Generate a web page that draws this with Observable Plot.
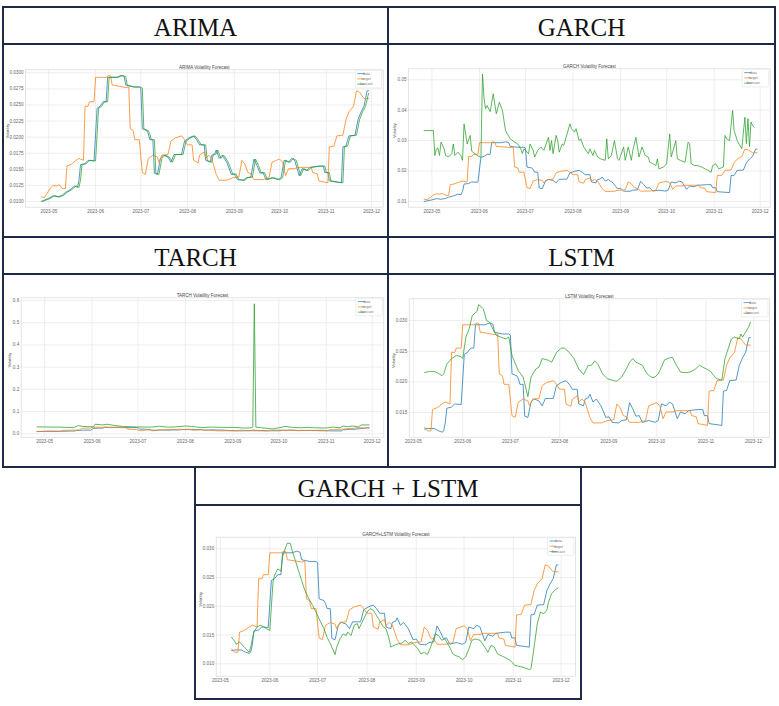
<!DOCTYPE html>
<html>
<head>
<meta charset="utf-8">
<script src="https://cdn.jsdelivr.net/npm/d3@7"></script>
<script src="https://cdn.jsdelivr.net/npm/@observablehq/plot@0.6"></script>
<style>
  body { margin: 0; background: #fff; }
  #page { position: relative; width: 779px; height: 706px; overflow: hidden; background: #fff; }
  .rule { position: absolute; background: #1d2947; }
  .head {
    position: absolute; display: flex; align-items: center; justify-content: center;
    box-sizing: border-box; padding-top: 4px;
    font-family: "Liberation Serif", "Times New Roman", serif; font-size: 25px; line-height: 1; color: #111;
  }
  .chart { position: absolute; }
  .chart svg { display: block; }
</style>
</head>
<body>
<div id="page"></div>
<script>
// Realised volatility ("data") before 21 May, as the statistical models saw it
const statDataHead = [
  ["2023-04-26", 0.0100], ["2023-04-28", 0.0102], ["2023-05-01", 0.0105], ["2023-05-04", 0.0109],
  ["2023-05-07", 0.0107], ["2023-05-10", 0.0110], ["2023-05-12", 0.0114], ["2023-05-15", 0.0118],
  ["2023-05-18", 0.0124], ["2023-05-20", 0.0122]
];
// ...and as the LSTM based models saw it (they start later)
const nnDataHead = [
  ["2023-05-08", 0.0123], ["2023-05-10", 0.0124], ["2023-05-14", 0.0124], ["2023-05-17", 0.0120],
  ["2023-05-19", 0.0118], ["2023-05-20", 0.0120]
];
// Realised volatility from 21 May on, the same in every panel
const dataTail = [
  ["2023-05-21", 0.0133], ["2023-05-22", 0.0157], ["2023-05-25", 0.0159], ["2023-05-27", 0.0164],
  ["2023-05-31", 0.0163], ["2023-06-02", 0.0245], ["2023-06-04", 0.0248], ["2023-06-06", 0.0255],
  ["2023-06-08", 0.0255], ["2023-06-09", 0.0293], ["2023-06-15", 0.0293], ["2023-06-18", 0.0296],
  ["2023-06-20", 0.0294], ["2023-06-21", 0.0281], ["2023-06-26", 0.0278], ["2023-06-30", 0.0278],
  ["2023-07-01", 0.0276], ["2023-07-02", 0.0213], ["2023-07-05", 0.0210], ["2023-07-06", 0.0205],
  ["2023-07-07", 0.0196], ["2023-07-09", 0.0196], ["2023-07-10", 0.0144], ["2023-07-12", 0.0142],
  ["2023-07-14", 0.0167], ["2023-07-16", 0.0172], ["2023-07-19", 0.0169], ["2023-07-21", 0.0161],
  ["2023-07-23", 0.0173], ["2023-07-28", 0.0173], ["2023-07-30", 0.0194], ["2023-08-02", 0.0199],
  ["2023-08-05", 0.0202], ["2023-08-07", 0.0196], ["2023-08-09", 0.0188], ["2023-08-12", 0.0188],
  ["2023-08-13", 0.0164], ["2023-08-16", 0.0161], ["2023-08-17", 0.0172], ["2023-08-19", 0.0174],
  ["2023-08-20", 0.0180], ["2023-08-22", 0.0167], ["2023-08-24", 0.0172], ["2023-08-27", 0.0161],
  ["2023-08-30", 0.0142], ["2023-09-01", 0.0143], ["2023-09-03", 0.0134], ["2023-09-07", 0.0133],
  ["2023-09-09", 0.0137], ["2023-09-12", 0.0138], ["2023-09-14", 0.0166], ["2023-09-16", 0.0156],
  ["2023-09-18", 0.0144], ["2023-09-20", 0.0145], ["2023-09-22", 0.0134], ["2023-09-26", 0.0137],
  ["2023-09-30", 0.0134], ["2023-10-02", 0.0137], ["2023-10-04", 0.0164], ["2023-10-07", 0.0161],
  ["2023-10-09", 0.0167], ["2023-10-11", 0.0164], ["2023-10-14", 0.0140], ["2023-10-16", 0.0151],
  ["2023-10-19", 0.0148], ["2023-10-21", 0.0153], ["2023-10-27", 0.0155], ["2023-10-30", 0.0155],
  ["2023-10-31", 0.0145], ["2023-11-02", 0.0145], ["2023-11-03", 0.0132], ["2023-11-11", 0.0129],
  ["2023-11-12", 0.0185], ["2023-11-14", 0.0186], ["2023-11-16", 0.0202], ["2023-11-20", 0.0203],
  ["2023-11-22", 0.0227], ["2023-11-24", 0.0239], ["2023-11-26", 0.0248], ["2023-11-28", 0.0272],
  ["2023-11-29", 0.0272]
];
// Target volatility, the same in every panel
const targetVol = [
  ["2023-04-26", 0.0107], ["2023-04-28", 0.0106], ["2023-04-30", 0.0113], ["2023-05-02", 0.0121],
  ["2023-05-04", 0.0125], ["2023-05-06", 0.0124], ["2023-05-08", 0.0126], ["2023-05-10", 0.0120],
  ["2023-05-12", 0.0120], ["2023-05-13", 0.0155], ["2023-05-16", 0.0158], ["2023-05-19", 0.0164],
  ["2023-05-21", 0.0167], ["2023-05-24", 0.0164], ["2023-05-25", 0.0248], ["2023-05-27", 0.0248],
  ["2023-05-28", 0.0255], ["2023-05-31", 0.0255], ["2023-06-01", 0.0293], ["2023-06-08", 0.0293],
  ["2023-06-10", 0.0296], ["2023-06-11", 0.0295], ["2023-06-12", 0.0281], ["2023-06-17", 0.0279],
  ["2023-06-21", 0.0277], ["2023-06-23", 0.0278], ["2023-06-24", 0.0213], ["2023-06-26", 0.0210],
  ["2023-06-27", 0.0196], ["2023-06-30", 0.0196], ["2023-07-02", 0.0145], ["2023-07-04", 0.0142],
  ["2023-07-06", 0.0167], ["2023-07-09", 0.0172], ["2023-07-12", 0.0169], ["2023-07-13", 0.0161],
  ["2023-07-15", 0.0172], ["2023-07-19", 0.0173], ["2023-07-21", 0.0194], ["2023-07-24", 0.0199],
  ["2023-07-28", 0.0202], ["2023-07-30", 0.0196], ["2023-08-01", 0.0188], ["2023-08-04", 0.0188],
  ["2023-08-05", 0.0164], ["2023-08-08", 0.0160], ["2023-08-09", 0.0172], ["2023-08-12", 0.0177],
  ["2023-08-13", 0.0167], ["2023-08-15", 0.0172], ["2023-08-17", 0.0167], ["2023-08-20", 0.0142],
  ["2023-08-22", 0.0133], ["2023-08-27", 0.0133], ["2023-08-31", 0.0137], ["2023-09-04", 0.0138],
  ["2023-09-06", 0.0164], ["2023-09-08", 0.0158], ["2023-09-10", 0.0145], ["2023-09-12", 0.0143],
  ["2023-09-14", 0.0134], ["2023-09-20", 0.0134], ["2023-09-24", 0.0137], ["2023-09-26", 0.0161],
  ["2023-09-29", 0.0164], ["2023-10-01", 0.0166], ["2023-10-03", 0.0161], ["2023-10-05", 0.0140],
  ["2023-10-07", 0.0151], ["2023-10-11", 0.0151], ["2023-10-13", 0.0153], ["2023-10-22", 0.0153],
  ["2023-10-23", 0.0145], ["2023-10-26", 0.0143], ["2023-10-27", 0.0132], ["2023-11-02", 0.0129],
  ["2023-11-03", 0.0185], ["2023-11-06", 0.0186], ["2023-11-08", 0.0202], ["2023-11-12", 0.0203],
  ["2023-11-14", 0.0227], ["2023-11-16", 0.0239], ["2023-11-19", 0.0248], ["2023-11-21", 0.0272],
  ["2023-11-23", 0.0270], ["2023-11-26", 0.0260], ["2023-11-29", 0.0260]
];

// Forecasts, one per model
const arimaForecast = [
  ["2023-04-27", 0.0100], ["2023-04-29", 0.0102], ["2023-05-02", 0.0105], ["2023-05-05", 0.0109],
  ["2023-05-08", 0.0107], ["2023-05-11", 0.0110], ["2023-05-13", 0.0114], ["2023-05-16", 0.0118],
  ["2023-05-19", 0.0124], ["2023-05-21", 0.0122], ["2023-05-22", 0.0133], ["2023-05-23", 0.0157],
  ["2023-05-26", 0.0159], ["2023-05-28", 0.0164], ["2023-06-01", 0.0163], ["2023-06-03", 0.0245],
  ["2023-06-05", 0.0248], ["2023-06-07", 0.0255], ["2023-06-09", 0.0255], ["2023-06-10", 0.0293],
  ["2023-06-16", 0.0293], ["2023-06-19", 0.0296], ["2023-06-21", 0.0294], ["2023-06-22", 0.0281],
  ["2023-06-27", 0.0278], ["2023-07-01", 0.0278], ["2023-07-02", 0.0276], ["2023-07-03", 0.0213],
  ["2023-07-06", 0.0210], ["2023-07-07", 0.0205], ["2023-07-08", 0.0196], ["2023-07-10", 0.0196],
  ["2023-07-11", 0.0144], ["2023-07-13", 0.0142], ["2023-07-15", 0.0167], ["2023-07-17", 0.0172],
  ["2023-07-20", 0.0169], ["2023-07-22", 0.0161], ["2023-07-24", 0.0173], ["2023-07-29", 0.0173],
  ["2023-07-31", 0.0194], ["2023-08-03", 0.0199], ["2023-08-06", 0.0202], ["2023-08-08", 0.0196],
  ["2023-08-10", 0.0188], ["2023-08-13", 0.0188], ["2023-08-14", 0.0164], ["2023-08-17", 0.0161],
  ["2023-08-18", 0.0172], ["2023-08-20", 0.0174], ["2023-08-21", 0.0180], ["2023-08-23", 0.0167],
  ["2023-08-25", 0.0172], ["2023-08-28", 0.0161], ["2023-08-31", 0.0142], ["2023-09-02", 0.0143],
  ["2023-09-04", 0.0134], ["2023-09-08", 0.0133], ["2023-09-10", 0.0137], ["2023-09-13", 0.0138],
  ["2023-09-15", 0.0166], ["2023-09-17", 0.0156], ["2023-09-19", 0.0144], ["2023-09-21", 0.0145],
  ["2023-09-23", 0.0134], ["2023-09-27", 0.0137], ["2023-10-01", 0.0134], ["2023-10-03", 0.0137],
  ["2023-10-05", 0.0164], ["2023-10-08", 0.0161], ["2023-10-10", 0.0167], ["2023-10-12", 0.0164],
  ["2023-10-15", 0.0140], ["2023-10-17", 0.0151], ["2023-10-20", 0.0148], ["2023-10-22", 0.0153],
  ["2023-10-28", 0.0155], ["2023-10-31", 0.0155], ["2023-11-01", 0.0145], ["2023-11-03", 0.0145],
  ["2023-11-04", 0.0132], ["2023-11-12", 0.0129], ["2023-11-13", 0.0185], ["2023-11-15", 0.0186],
  ["2023-11-17", 0.0202], ["2023-11-21", 0.0203], ["2023-11-23", 0.0227], ["2023-11-25", 0.0239],
  ["2023-11-27", 0.0248], ["2023-11-29", 0.0268]
];
const garchForecast = [
  ["2023-04-26", 0.0333], ["2023-05-02", 0.0333], ["2023-05-03", 0.0251], ["2023-05-04", 0.0273],
  ["2023-05-05", 0.0275], ["2023-05-06", 0.0251], ["2023-05-07", 0.0295], ["2023-05-09", 0.0273],
  ["2023-05-10", 0.0251], ["2023-05-12", 0.0246], ["2023-05-14", 0.0257], ["2023-05-15", 0.0289],
  ["2023-05-16", 0.0251], ["2023-05-18", 0.0262], ["2023-05-20", 0.0250], ["2023-05-21", 0.0235],
  ["2023-05-22", 0.0355], ["2023-05-24", 0.0289], ["2023-05-26", 0.0317], ["2023-05-27", 0.0265],
  ["2023-05-29", 0.0257], ["2023-05-31", 0.0250], ["2023-06-02", 0.0245], ["2023-06-03", 0.0519],
  ["2023-06-04", 0.0440], ["2023-06-05", 0.0405], ["2023-06-06", 0.0415], ["2023-06-08", 0.0395],
  ["2023-06-10", 0.0454], ["2023-06-12", 0.0388], ["2023-06-14", 0.0426], ["2023-06-16", 0.0399],
  ["2023-06-18", 0.0333], ["2023-06-21", 0.0306], ["2023-06-24", 0.0295],
  ["2023-06-26", 0.0289], ["2023-06-28", 0.0273], ["2023-06-29", 0.0257], ["2023-06-30", 0.0273],
  ["2023-07-03", 0.0257], ["2023-07-04", 0.0289], ["2023-07-06", 0.0268], ["2023-07-07", 0.0246],
  ["2023-07-09", 0.0268], ["2023-07-11", 0.0279], ["2023-07-13", 0.0268], ["2023-07-16", 0.0311],
  ["2023-07-17", 0.0268], ["2023-07-18", 0.0300], ["2023-07-19", 0.0257], ["2023-07-21", 0.0317],
  ["2023-07-22", 0.0300], ["2023-07-23", 0.0262], ["2023-07-25", 0.0289], ["2023-07-26", 0.0284],
  ["2023-07-30", 0.0355], ["2023-07-31", 0.0339], ["2023-08-02", 0.0328], ["2023-08-03", 0.0339],
  ["2023-08-05", 0.0300], ["2023-08-06", 0.0306], ["2023-08-08", 0.0279], ["2023-08-11", 0.0257],
  ["2023-08-12", 0.0273], ["2023-08-14", 0.0251], ["2023-08-15", 0.0268], ["2023-08-17", 0.0246],
  ["2023-08-19", 0.0240], ["2023-08-22", 0.0235], ["2023-08-23", 0.0306], ["2023-08-24", 0.0240],
  ["2023-08-26", 0.0251], ["2023-08-28", 0.0300], ["2023-08-30", 0.0240], ["2023-08-31", 0.0235],
  ["2023-09-03", 0.0279], ["2023-09-04", 0.0235], ["2023-09-06", 0.0279], ["2023-09-08", 0.0235],
  ["2023-09-09", 0.0268], ["2023-09-11", 0.0311], ["2023-09-13", 0.0246], ["2023-09-15", 0.0279],
  ["2023-09-17", 0.0251], ["2023-09-19", 0.0246], ["2023-09-20", 0.0229], ["2023-09-22", 0.0224],
  ["2023-09-24", 0.0218], ["2023-09-25", 0.0240], ["2023-09-26", 0.0207], ["2023-09-29", 0.0213],
  ["2023-10-01", 0.0224], ["2023-10-03", 0.0322], ["2023-10-04", 0.0246], ["2023-10-07", 0.0300],
  ["2023-10-08", 0.0240], ["2023-10-10", 0.0235], ["2023-10-13", 0.0229], ["2023-10-15", 0.0295],
  ["2023-10-16", 0.0289], ["2023-10-17", 0.0224], ["2023-10-19", 0.0218], ["2023-10-21", 0.0218],
  ["2023-10-24", 0.0213], ["2023-10-26", 0.0207], ["2023-10-28", 0.0202], ["2023-10-30", 0.0196],
  ["2023-10-31", 0.0218], ["2023-11-02", 0.0224], ["2023-11-04", 0.0207], ["2023-11-07", 0.0213],
  ["2023-11-08", 0.0317], ["2023-11-09", 0.0306], ["2023-11-11", 0.0300], ["2023-11-13", 0.0399],
  ["2023-11-14", 0.0333], ["2023-11-16", 0.0300], ["2023-11-19", 0.0273], ["2023-11-21", 0.0377],
  ["2023-11-22", 0.0290], ["2023-11-23", 0.0372], ["2023-11-24", 0.0280], ["2023-11-25", 0.0361],
  ["2023-11-26", 0.0350], ["2023-11-27", 0.0344]
];
const tarchForecast = [
  ["2023-04-26", 0.031], ["2023-05-10", 0.030], ["2023-05-20", 0.028], ["2023-05-23", 0.037],
  ["2023-05-26", 0.033], ["2023-05-31", 0.032], ["2023-06-02", 0.031], ["2023-06-03", 0.043],
  ["2023-06-08", 0.040], ["2023-06-11", 0.043], ["2023-06-16", 0.037], ["2023-06-21", 0.033],
  ["2023-06-30", 0.031], ["2023-07-10", 0.030], ["2023-07-15", 0.034], ["2023-07-20", 0.030],
  ["2023-07-25", 0.031], ["2023-08-01", 0.035], ["2023-08-05", 0.033], ["2023-08-12", 0.028],
  ["2023-08-18", 0.030], ["2023-08-25", 0.029], ["2023-09-01", 0.029], ["2023-09-08", 0.026],
  ["2023-09-13", 0.027], ["2023-09-14", 0.030], ["2023-09-15", 0.585], ["2023-09-16", 0.030],
  ["2023-09-20", 0.027], ["2023-09-27", 0.022], ["2023-10-01", 0.027], ["2023-10-05", 0.033],
  ["2023-10-10", 0.029], ["2023-10-15", 0.027], ["2023-10-20", 0.029], ["2023-10-25", 0.027],
  ["2023-11-01", 0.026], ["2023-11-05", 0.030], ["2023-11-10", 0.027], ["2023-11-12", 0.035],
  ["2023-11-15", 0.032], ["2023-11-18", 0.035], ["2023-11-22", 0.031], ["2023-11-24", 0.040],
  ["2023-11-29", 0.040]
];
const lstmForecast = [
  ["2023-05-08", 0.0215], ["2023-05-11", 0.0217], ["2023-05-14", 0.0217], ["2023-05-16", 0.0215],
  ["2023-05-19", 0.0210], ["2023-05-20", 0.0213], ["2023-05-22", 0.0229], ["2023-05-25", 0.0238],
  ["2023-05-28", 0.0243], ["2023-05-31", 0.0241], ["2023-06-01", 0.0238], ["2023-06-03", 0.0273],
  ["2023-06-05", 0.0286], ["2023-06-07", 0.0308], ["2023-06-10", 0.0315], ["2023-06-11", 0.0326],
  ["2023-06-14", 0.0319], ["2023-06-16", 0.0300], ["2023-06-18", 0.0297], ["2023-06-20", 0.0286],
  ["2023-06-22", 0.0276], ["2023-06-25", 0.0273], ["2023-06-28", 0.0270], ["2023-06-30", 0.0273],
  ["2023-07-02", 0.0243], ["2023-07-06", 0.0218], ["2023-07-09", 0.0208], ["2023-07-12", 0.0176],
  ["2023-07-14", 0.0208], ["2023-07-17", 0.0221], ["2023-07-19", 0.0224], ["2023-07-21", 0.0238],
  ["2023-07-25", 0.0235], ["2023-07-27", 0.0232], ["2023-07-30", 0.0248], ["2023-08-02", 0.0255],
  ["2023-08-04", 0.0255], ["2023-08-07", 0.0248], ["2023-08-10", 0.0238], ["2023-08-13", 0.0221],
  ["2023-08-16", 0.0212], ["2023-08-19", 0.0227], ["2023-08-21", 0.0227], ["2023-08-23", 0.0234],
  ["2023-08-25", 0.0229], ["2023-08-28", 0.0213], ["2023-08-31", 0.0205], ["2023-09-04", 0.0202],
  ["2023-09-06", 0.0201], ["2023-09-09", 0.0208], ["2023-09-12", 0.0221], ["2023-09-14", 0.0232],
  ["2023-09-16", 0.0238], ["2023-09-18", 0.0232], ["2023-09-22", 0.0227], ["2023-09-25", 0.0213],
  ["2023-09-28", 0.0207], ["2023-09-30", 0.0208], ["2023-10-02", 0.0213], ["2023-10-04", 0.0224],
  ["2023-10-06", 0.0236], ["2023-10-09", 0.0239], ["2023-10-11", 0.0240], ["2023-10-13", 0.0229],
  ["2023-10-16", 0.0216], ["2023-10-19", 0.0215], ["2023-10-22", 0.0216], ["2023-10-25", 0.0220],
  ["2023-10-28", 0.0227], ["2023-10-30", 0.0224], ["2023-11-02", 0.0220], ["2023-11-04", 0.0217],
  ["2023-11-06", 0.0210], ["2023-11-08", 0.0205], ["2023-11-11", 0.0203], ["2023-11-13", 0.0238],
  ["2023-11-15", 0.0254], ["2023-11-17", 0.0270], ["2023-11-19", 0.0273], ["2023-11-22", 0.0270],
  ["2023-11-23", 0.0278], ["2023-11-24", 0.0273], ["2023-11-26", 0.0281], ["2023-11-28", 0.0290],
  ["2023-11-29", 0.0297]
];
const hybridForecast = [
  ["2023-05-08", 0.0146], ["2023-05-10", 0.0139], ["2023-05-11", 0.0134], ["2023-05-13", 0.0138],
  ["2023-05-14", 0.0135], ["2023-05-16", 0.0129], ["2023-05-19", 0.0120], ["2023-05-20", 0.0129],
  ["2023-05-22", 0.0155], ["2023-05-24", 0.0164], ["2023-05-26", 0.0167], ["2023-05-28", 0.0165],
  ["2023-05-30", 0.0161], ["2023-06-01", 0.0158], ["2023-06-03", 0.0242], ["2023-06-04", 0.0254],
  ["2023-06-06", 0.0265], ["2023-06-08", 0.0261], ["2023-06-09", 0.0286], ["2023-06-11", 0.0303],
  ["2023-06-12", 0.0310], ["2023-06-14", 0.0309], ["2023-06-15", 0.0297], ["2023-06-17", 0.0280],
  ["2023-06-19", 0.0262], ["2023-06-21", 0.0245], ["2023-06-23", 0.0228], ["2023-06-25", 0.0216],
  ["2023-06-28", 0.0201], ["2023-06-30", 0.0190], ["2023-07-02", 0.0178], ["2023-07-05", 0.0161],
  ["2023-07-07", 0.0146], ["2023-07-09", 0.0135], ["2023-07-12", 0.0116], ["2023-07-13", 0.0129],
  ["2023-07-15", 0.0143], ["2023-07-17", 0.0152], ["2023-07-19", 0.0149], ["2023-07-20", 0.0155],
  ["2023-07-22", 0.0149], ["2023-07-24", 0.0167], ["2023-07-26", 0.0170], ["2023-07-27", 0.0161],
  ["2023-07-30", 0.0178], ["2023-08-01", 0.0190], ["2023-08-03", 0.0196], ["2023-08-05", 0.0193],
  ["2023-08-07", 0.0184], ["2023-08-09", 0.0175], ["2023-08-11", 0.0165], ["2023-08-13", 0.0161],
  ["2023-08-15", 0.0143], ["2023-08-16", 0.0129], ["2023-08-18", 0.0132], ["2023-08-21", 0.0135],
  ["2023-08-23", 0.0136], ["2023-08-25", 0.0141], ["2023-08-27", 0.0135], ["2023-08-29", 0.0138],
  ["2023-08-31", 0.0132], ["2023-09-02", 0.0126], ["2023-09-04", 0.0117], ["2023-09-06", 0.0120],
  ["2023-09-08", 0.0116], ["2023-09-10", 0.0129], ["2023-09-13", 0.0152], ["2023-09-15", 0.0149],
  ["2023-09-17", 0.0141], ["2023-09-19", 0.0143], ["2023-09-22", 0.0129], ["2023-09-24", 0.0117],
  ["2023-09-26", 0.0114], ["2023-09-28", 0.0112], ["2023-09-30", 0.0107], ["2023-10-02", 0.0112],
  ["2023-10-04", 0.0126], ["2023-10-06", 0.0141], ["2023-10-08", 0.0143], ["2023-10-11", 0.0141],
  ["2023-10-14", 0.0129], ["2023-10-16", 0.0120], ["2023-10-18", 0.0132], ["2023-10-20", 0.0129],
  ["2023-10-22", 0.0117], ["2023-10-26", 0.0112], ["2023-10-28", 0.0109], ["2023-10-30", 0.0106],
  ["2023-11-02", 0.0097], ["2023-11-04", 0.0096], ["2023-11-07", 0.0094], ["2023-11-11", 0.0090],
  ["2023-11-12", 0.0091], ["2023-11-14", 0.0129], ["2023-11-16", 0.0170], ["2023-11-18", 0.0190],
  ["2023-11-20", 0.0187], ["2023-11-22", 0.0193], ["2023-11-23", 0.0207], ["2023-11-25", 0.0222],
  ["2023-11-27", 0.0228], ["2023-11-29", 0.0232]
];

// Tick values
const monthTicks = ["2023-05-01", "2023-06-01", "2023-07-01", "2023-08-01", "2023-09-01", "2023-10-01", "2023-11-01", "2023-12-01"];
const arimaTicks = [0.0100, 0.0125, 0.0150, 0.0175, 0.0200, 0.0225, 0.0250, 0.0275, 0.0300];
const garchTicks = [0.01, 0.02, 0.03, 0.04, 0.05];
const tarchTicks = [0.0, 0.1, 0.2, 0.3, 0.4, 0.5, 0.6];
const lstmTicks = [0.015, 0.020, 0.025, 0.030];
const hybridTicks = [0.010, 0.015, 0.020, 0.025, 0.030];
const seriesNames = ["data", "target", "forecast"];

const seriesColors = {data: "#1f77b4", target: "#ff7f0e", forecast: "#2ca02c"};
const borderColor = "#1d2947";

const toRows = (pairs) => pairs.map(([d, v]) => ({date: new Date(d), value: v}));
const fromDate = (pairs, start) => pairs.filter(([d]) => d >= start);

const statData = statDataHead.concat(dataTail);
const nnData = nnDataHead.concat(dataTail);

// box = [left, top, width, height] of the svg on the page, margin = [top, right, bottom, left]
const panels = [
  {heading: "ARIMA", head: [3, 7, 385, 37], title: "ARIMA Volatility Forecast",
   box: [4, 45, 383, 191], margin: [24.3, 4.3, 29.3, 21],
   xDomain: ["2023-04-15T13:00Z", "2023-12-08T17:00Z"], yDomain: [0.00911, 0.03047],
   yTicks: arimaTicks, yFormat: ".4f", labelDx: -17.7,
   data: statData, target: targetVol, forecast: arimaForecast},
  {heading: "GARCH", head: [388, 7, 387, 37], title: "GARCH Volatility Forecast",
   box: [389, 45, 385, 191], margin: [23.3, 4.3, 29.3, 19],
   xDomain: ["2023-04-15T19:00Z", "2023-12-07T12:00Z"], yDomain: [0.0081, 0.0536],
   yTicks: garchTicks, yFormat: ".2f", labelDx: -13.3,
   data: statData, target: targetVol, forecast: garchForecast},
  {heading: "TARCH", head: [3, 237, 385, 37], title: "TARCH Volatility Forecast",
   box: [4, 275, 383, 191], margin: [22.3, 3.7, 29.3, 16.7],
   xDomain: ["2023-04-15T17:00Z", "2023-12-08T14:00Z"], yDomain: [-0.0153, 0.612],
   yTicks: tarchTicks, yFormat: ".1f", labelDx: -11.4,
   data: statData, target: targetVol, forecast: tarchForecast},
  {heading: "LSTM", head: [388, 237, 387, 37], title: "LSTM Volatility Forecast",
   box: [389, 275, 385, 191], margin: [23.3, 5, 29.3, 19.7],
   xDomain: ["2023-04-28T08:00Z", "2023-12-11T00:00Z"], yDomain: [0.01098, 0.03354],
   yTicks: lstmTicks, yFormat: ".3f", labelDx: -15.7,
   data: nnData, target: fromDate(targetVol, "2023-05-08"), forecast: lstmForecast},
  {heading: "GARCH + LSTM", head: [195, 467, 386, 38], title: "GARCH+LSTM Volatility Forecast",
   box: [196, 506, 384, 192], margin: [30.7, 5, 22.3, 19.7],
   xDomain: ["2023-04-28T08:00Z", "2023-12-10T00:00Z"], yDomain: [0.00784, 0.03202],
   yTicks: hybridTicks, yFormat: ".3f", labelDx: -15.7,
   data: nnData, target: fromDate(targetVol, "2023-05-08"), forecast: hybridForecast}
];

const page = document.getElementById("page");

function rule(x, y, w, h) {
  const el = document.createElement("div");
  el.className = "rule";
  Object.assign(el.style, {left: x + "px", top: y + "px", width: w + "px", height: h + "px", background: borderColor});
  page.appendChild(el);
}

// Table rules
const t = 1.3;
[[3, 7], [3, 44], [3, 237], [3, 274], [3, 467]].forEach(([x, y]) => rule(x - t / 2, y - t / 2, 772 + t, t));
[[195, 505], [195, 699]].forEach(([x, y]) => rule(x - t / 2, y - t / 2, 386 + t, t));
[3, 388, 775].forEach((x) => rule(x - t / 2, 7 - t / 2, t, 460 + t));
[195, 581].forEach((x) => rule(x - t / 2, 467 - t / 2, t, 232 + t));

// Legend drawn in the top-right corner of the frame
function legendMark() {
  return (index, scales, values, dims) => {
    const right = dims.width - dims.marginRight;
    const top = dims.marginTop;
    const g = d3.create("svg:g");
    g.append("rect")
      .attr("x", right - 27.5).attr("y", top + 1).attr("width", 26.5).attr("height", 17.6).attr("rx", 1)
      .attr("fill", "white").attr("fill-opacity", 0.85)
      .attr("stroke", "#dadada").attr("stroke-width", 0.5);
    seriesNames.forEach((name, i) => {
      const y = top + 4.3 + i * 5.3;
      g.append("line")
        .attr("x1", right - 25.5).attr("x2", right - 18.3).attr("y1", y).attr("y2", y)
        .attr("stroke", seriesColors[name]).attr("stroke-width", 0.9).attr("stroke-opacity", 0.75);
      g.append("text")
        .attr("x", right - 16.5).attr("y", y).attr("dy", "0.35em")
        .attr("font-size", 3.6).attr("fill", "#777").text(name);
    });
    return g.node();
  };
}

function drawPanel(p) {
  const head = document.createElement("div");
  head.className = "head";
  Object.assign(head.style, {left: p.head[0] + "px", top: p.head[1] + "px", width: p.head[2] + "px", height: p.head[3] + "px"});
  head.textContent = p.heading;
  page.appendChild(head);

  const months = monthTicks.map((d) => new Date(d));
  const lines = seriesNames.map((name) =>
    Plot.line(toRows(p[name]), {x: "date", y: "value", stroke: seriesColors[name], strokeWidth: 0.85, strokeOpacity: 0.9})
  );

  const plot = Plot.plot({
    width: p.box[2],
    height: p.box[3],
    marginTop: p.margin[0],
    marginRight: p.margin[1],
    marginBottom: p.margin[2],
    marginLeft: p.margin[3],
    style: {fontFamily: "'Liberation Sans', Arial, sans-serif", fontSize: "4.6px", background: "transparent", overflow: "visible"},
    x: {type: "utc", domain: p.xDomain.map((d) => new Date(d))},
    y: {domain: p.yDomain},
    marks: [
      Plot.gridX(months, {stroke: "#e6e6e6", strokeOpacity: 1, strokeWidth: 0.7}),
      Plot.gridY(p.yTicks, {stroke: "#e6e6e6", strokeOpacity: 1, strokeWidth: 0.7}),
      Plot.frame({stroke: "#d9d9d9", strokeWidth: 0.7}),
      Plot.axisX(months, {tickFormat: d3.utcFormat("%Y-%m"), tickSize: 0, tickPadding: 3, fontSize: 4.6, fill: "#666", label: null}),
      Plot.axisY(p.yTicks, {tickFormat: d3.format(p.yFormat), tickSize: 0, tickPadding: 2, fontSize: 4.6, fill: "#666", label: null}),
      ...lines,
      Plot.text([p.title], {text: (d) => d, frameAnchor: "top", dy: -4.5, fontSize: 4.5, fill: "#444"}),
      Plot.text(["Volatility"], {text: (d) => d, frameAnchor: "left", dx: p.labelDx, rotate: -90, fontSize: 4, fill: "#555"}),
      legendMark()
    ]
  });

  const holder = document.createElement("div");
  holder.className = "chart";
  Object.assign(holder.style, {left: p.box[0] + "px", top: p.box[1] + "px"});
  holder.appendChild(plot);
  page.appendChild(holder);
}

panels.forEach(drawPanel);
</script>
</body>
</html>
